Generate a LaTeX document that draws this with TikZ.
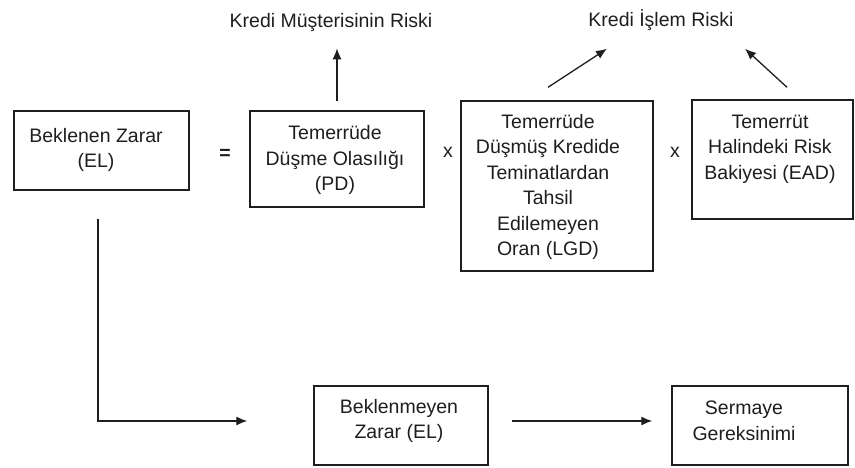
\documentclass[tikz,border=0pt]{standalone}
\usepackage{fontspec}
\setmainfont{Liberation Sans}
\usetikzlibrary{arrows.meta}
\definecolor{ink}{HTML}{1E1E1E}
\tikzset{
  box/.style={draw=ink, line width=1.4pt, inner sep=0pt, fill=white},
  txt/.style={inner sep=0pt, align=center, text=ink,
    font=\fontsize{19.5}{25.5}\selectfont},
  arr/.style={draw=ink, line width=1.3pt, -{Latex[length=11pt,width=9pt]}}
}
\begin{document}
\begin{tikzpicture}[x=1pt,y=-1pt]
\useasboundingbox (0,0) rectangle (855,467);

% boxes
\node[box, minimum width=175pt, minimum height=79pt] (el) at (101.5,150.5) {};
\node[box, minimum width=174pt, minimum height=96pt] (pd) at (337,159) {};
\node[box, minimum width=192pt, minimum height=170pt] (lgd) at (557,186) {};
\node[box, minimum width=161pt, minimum height=119pt] (ead) at (772.5,159.5) {};
\node[box, minimum width=174pt, minimum height=79pt] (bek) at (401,425.5) {};
\node[box, minimum width=176pt, minimum height=79pt] (serm) at (760,425.5) {};

% box texts
\node[txt] (eltxt) at (96,150) {Beklenen Zarar\\(EL)};
\node[txt] (pdtxt) at (335,160) {Temerrüde\\Düşme Olasılığı\\(PD)};
\node[txt] (lgdtxt) at (548,187) {Temerrüde\\Düşmüş Kredide\\Teminatlardan\\Tahsil\\Edilemeyen\\Oran (LGD)};
\node[txt] (eadtxt) at (770,149) {Temerrüt\\Halindeki Risk\\Bakiyesi (EAD)};
\node[txt] (bektxt) at (399,421) {Beklenmeyen\\Zarar (EL)};
\node[txt] (sermtxt) at (744,421) {Sermaye\\Gereksinimi};

% operators
\node[txt, font=\fontsize{19.5}{25.5}\bfseries] (eq) at (225,154) {=};
\node[txt] (x1) at (448,152) {x};
\node[txt] (x2) at (675,152) {x};

% risk labels
\node[txt] (kmr) at (331,22) {Kredi Müşterisinin Riski};
\node[txt] (kir) at (661,20) {Kredi İşlem Riski};

% connectors
\draw[arr, shorten <=9pt, shorten >=17pt] (pd.north) -- (pd.north |- kmr.south);
\draw[arr] ([shift={(-9,-13)}]lgd.north) -- ([shift={(-54,18)}]kir.south);
\draw[arr] ([shift={(14.5,-12)}]ead.north) -- ([shift={(84,18)}]kir.south);
\draw[arr] ([shift={(-3.5,28)}]el.south) |- ([shift={(-66,-4.5)}]bek.west);
\draw[arr] ([shift={(23,-4.5)}]bek.east) -- ([shift={(-19,-4.5)}]serm.west);
\end{tikzpicture}
\end{document}
